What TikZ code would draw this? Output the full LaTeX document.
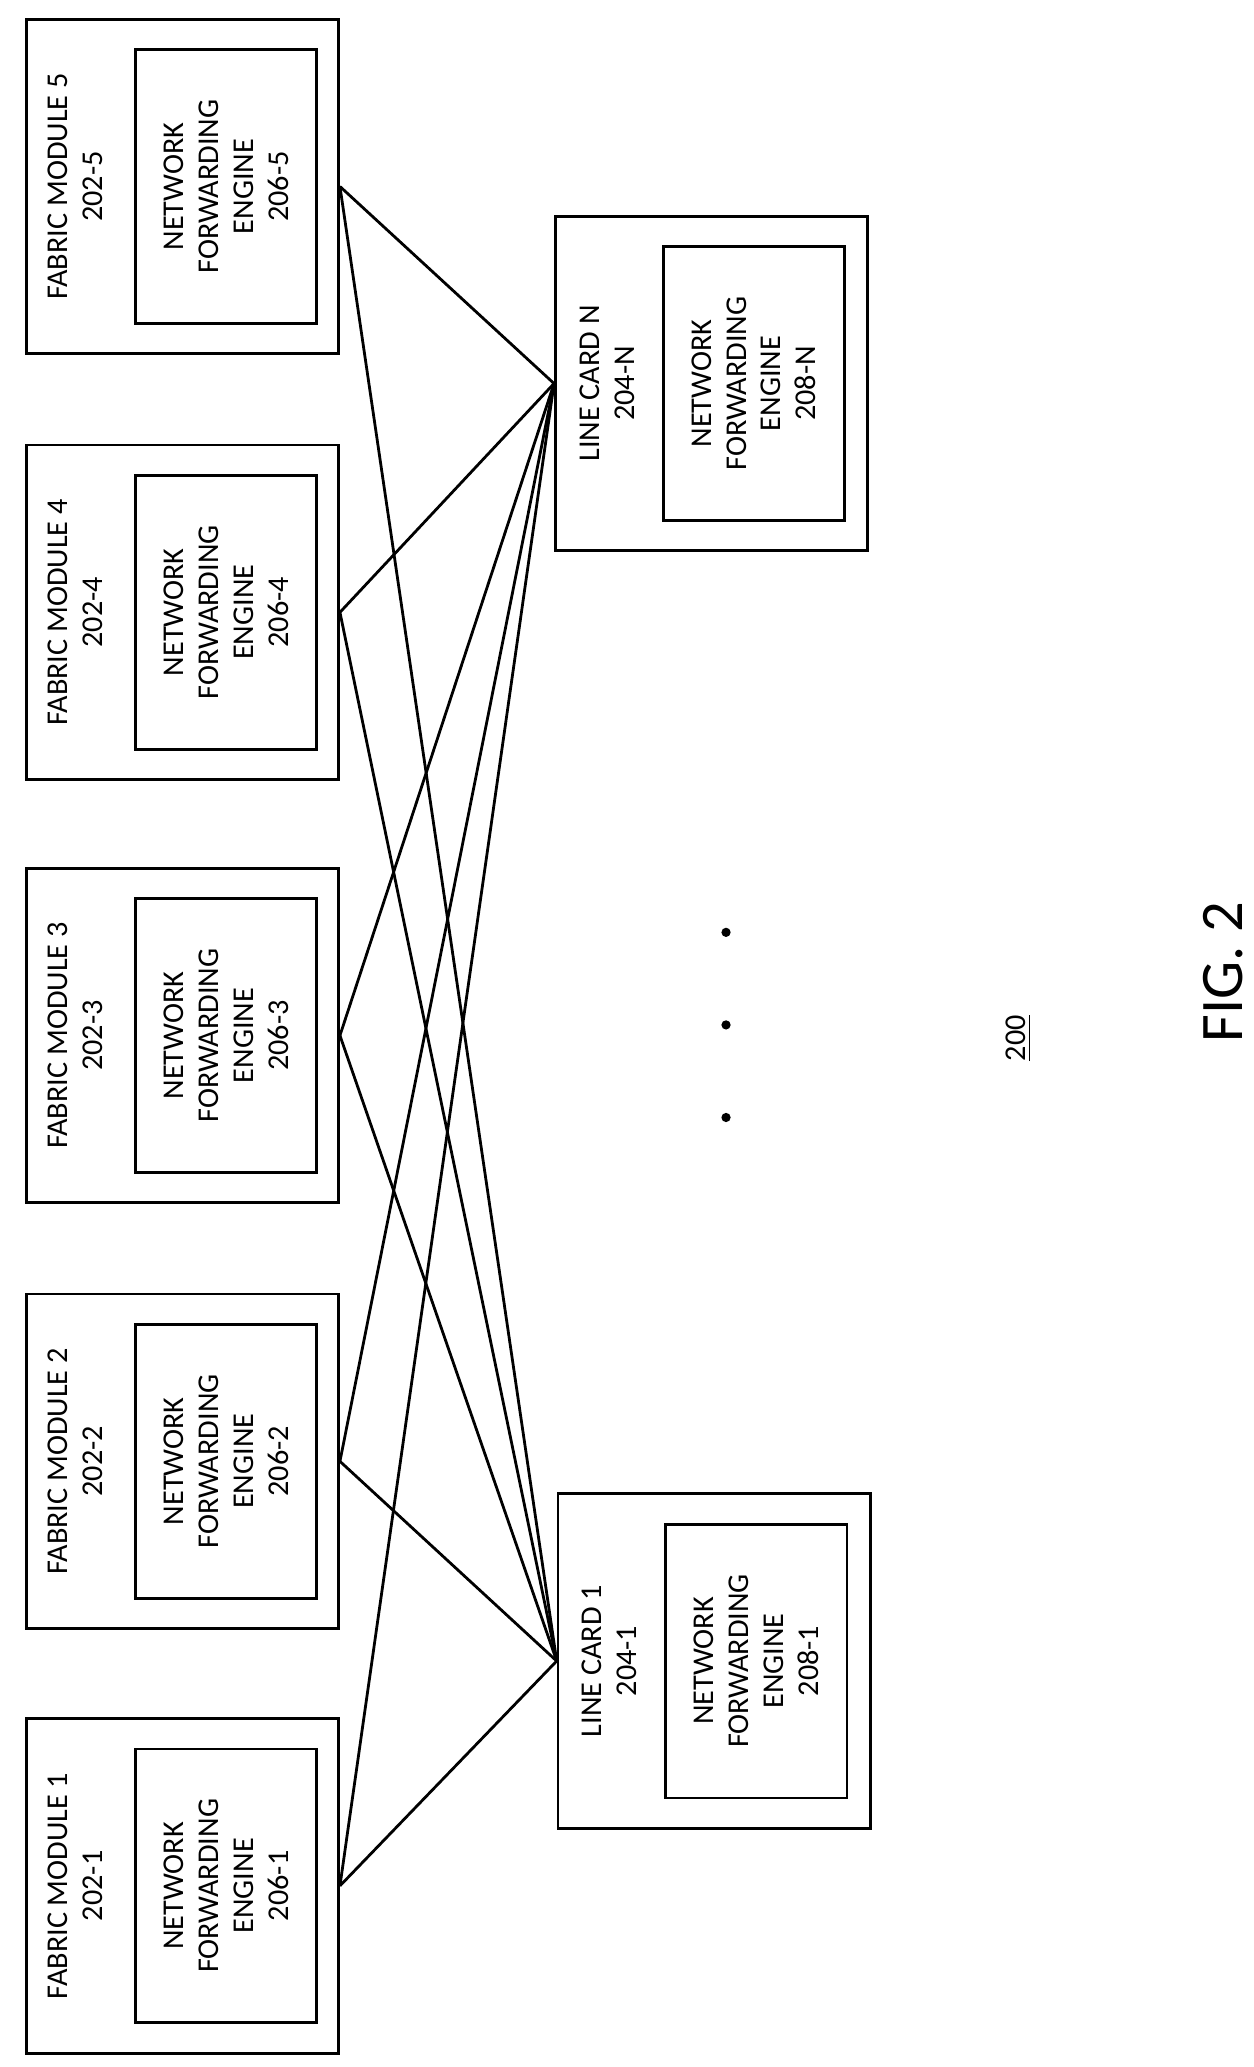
\documentclass[tikz,border=0pt]{standalone}
\usepackage{fontspec}
\setmainfont{Carlito}
\begin{document}
\tikzset{
  box/.style={draw,line width=1.2pt,minimum width=236*0.02cm,minimum height=253*0.02cm},
  inner/.style={draw,line width=1.2pt,minimum width=137*0.02cm,minimum height=207*0.02cm},
  lbl/.style={rotate=90,font=\fontsize{13}{15}\selectfont,align=center},
  link/.style={line width=1.2pt}
}
\begin{tikzpicture}[x=0.02cm,y=-0.02cm]
  \useasboundingbox (0,0) rectangle (948,1563);
  % fabric modules
  \foreach \i/\y in {5/141, 4/463, 3/783, 2/1105, 1/1426} {
    \node[box] (fm\i) at (138,\y) {};
    \node[lbl] (fmt\i) at (57,\y) {FABRIC MODULE \i\\202-\i};
    \node[inner] (fe\i) at (171,\y) {};
    \node[lbl] (fet\i) at (171,\y) {NETWORK\\FORWARDING\\ENGINE\\206-\i};
  }
  % line cards
  \node[box] (lcN) at (538,290) {};
  \node[lbl] (lctN) at (459,290) {LINE CARD N\\204-N};
  \node[inner] (leN) at (570,290) {};
  \node[lbl] (letN) at (570,290) {NETWORK\\FORWARDING\\ENGINE\\208-N};
  \node[box] (lc1) at (540,1256) {};
  \node[lbl] (lct1) at (461,1256) {LINE CARD 1\\204-1};
  \node[inner] (le1) at (572,1256) {};
  \node[lbl] (let1) at (572,1256) {NETWORK\\FORWARDING\\ENGINE\\208-1};
  % links
  \foreach \i in {1,...,5} {
    \draw[link] (fm\i.east) -- (lcN.west);
    \draw[link] (fm\i.east) -- (lc1.west);
  }
  % dots
  \foreach \y in {705,775,845}
    \fill (549,\y) circle (3.5);
  \node[lbl] (ref) at (770,785) {\underline{200}};
  \node[rotate=90,font=\fontsize{26}{30}\selectfont] (fig) at (925,735) {FIG. 2};
\end{tikzpicture}
\end{document}
